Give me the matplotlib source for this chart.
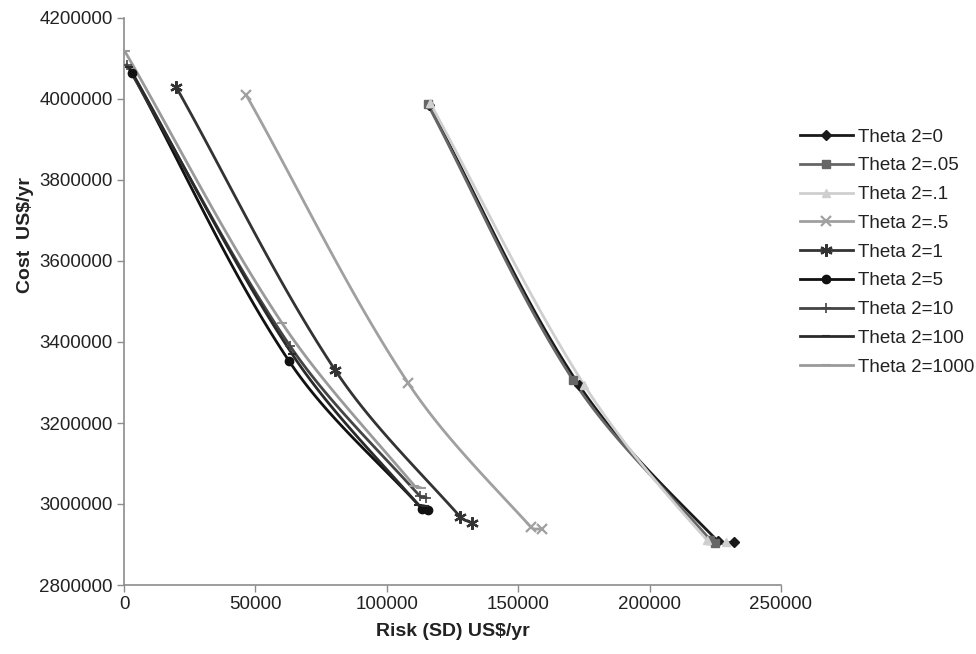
import numpy as np
import matplotlib
matplotlib.use("Agg")
import matplotlib.pyplot as plt

plt.rcParams['font.family'] = ['Liberation Sans', 'DejaVu Sans']

# Risk (SD) and cost for each Theta 2 setting
labels = ["Theta 2=0", "Theta 2=.05", "Theta 2=.1", "Theta 2=.5", "Theta 2=1",
          "Theta 2=5", "Theta 2=10", "Theta 2=100", "Theta 2=1000"]

risk_t0 = [116000, 173000, 226000, 232000]
cost_t0 = [3985000, 3295000, 2908000, 2905000]
risk_t005 = [115500, 171000, 223000, 225000]
cost_t005 = [3988000, 3305000, 2912000, 2903000]
risk_t01 = [116500, 175000, 222000, 229000]
cost_t01 = [3990000, 3295000, 2910000, 2905000]
risk_t05 = [46500, 108000, 155000, 159000]
cost_t05 = [4010000, 3300000, 2942000, 2938000]
risk_t1 = [19800, 80300, 128000, 132400]
cost_t1 = [4030000, 3331000, 2968000, 2953000]
risk_t5 = [3000, 62800, 113500, 115500]
cost_t5 = [4064000, 3353000, 2988000, 2984000]
risk_t10 = [1000, 63200, 112500, 115000]
cost_t10 = [4085000, 3390000, 3020000, 3016000]
risk_t100 = [2000, 64000, 112000, 114500]
cost_t100 = [4078000, 3370000, 2998000, 2995000]
risk_t1000 = [300, 60100, 110500, 113000]
cost_t1000 = [4118000, 3447000, 3045000, 3040000]

risks = [risk_t0, risk_t005, risk_t01, risk_t05, risk_t1,
         risk_t5, risk_t10, risk_t100, risk_t1000]
costs = [cost_t0, cost_t005, cost_t01, cost_t05, cost_t1,
         cost_t5, cost_t10, cost_t100, cost_t1000]

styles = [
    dict(color="#1a1a1a", marker="D", ms=5),
    dict(color="#666666", marker="s", ms=6),
    dict(color="#cfcfcf", marker="^", ms=6),
    dict(color="#a0a0a0", marker="x", ms=7, mew=1.6),
    dict(color="#333333", marker=(6, 2, 0), ms=9, mew=1.6),
    dict(color="#111111", marker="o", ms=6),
    dict(color="#444444", marker="+", ms=7, mew=1.2),
    dict(color="#2a2a2a", marker="_", ms=6, mew=1.5),
    dict(color="#9a9a9a", marker="_", ms=7, mew=1.5),
]

XMAX, YMIN, YMAX = 250000, 2800000, 4200000
AX_W, AX_H = 657.0, 567.0  # axes size in pixels


def smooth(xs, ys, n=40):
    """Smoothed path through the points (cubic Bezier segments, no overshoot)."""
    # work in screen-like units so directions are meaningful
    p = np.column_stack([np.asarray(xs, float) / XMAX * AX_W,
                         (np.asarray(ys, float) - YMIN) / (YMAX - YMIN) * AX_H])
    k = len(p)
    tang = np.zeros_like(p)
    for i in range(k):
        a = p[max(i - 1, 0)]
        b = p[min(i + 1, k - 1)]
        d = b - a
        tang[i] = d / np.hypot(*d)
    t = np.linspace(0, 1, n)[:, None]
    out = []
    for i in range(k - 1):
        p0, p3 = p[i], p[i + 1]
        L = np.hypot(*(p3 - p0))
        p1 = p0 + tang[i] * L / 3
        p2 = p3 - tang[i + 1] * L / 3
        seg = ((1 - t) ** 3) * p0 + 3 * ((1 - t) ** 2) * t * p1 \
            + 3 * (1 - t) * t ** 2 * p2 + t ** 3 * p3
        out.append(seg if i == 0 else seg[1:])
    s = np.vstack(out)
    return s[:, 0] / AX_W * XMAX, s[:, 1] / AX_H * (YMAX - YMIN) + YMIN


fig = plt.figure(figsize=(9.76, 6.54), dpi=100)
ax = fig.add_axes([124 / 976, 69 / 654, AX_W / 976, AX_H / 654])

for lab, xs, ys, st in zip(labels, risks, costs, styles):
    sx, sy = smooth(xs, ys)
    ax.plot(sx, sy, color=st["color"], lw=2.0, solid_capstyle="round", zorder=2)
    ax.plot(xs, ys, linestyle="none", color=st["color"], marker=st["marker"],
            ms=st["ms"], mew=st.get("mew", 1.0), zorder=3)
    ax.plot([], [], color=st["color"], lw=2.0, marker=st["marker"],
            ms=st["ms"], mew=st.get("mew", 1.0), label=lab)

ax.set_xlim(0, XMAX)
ax.set_ylim(YMIN, YMAX)
ax.set_xticks(np.arange(0, XMAX + 1, 50000))
ax.set_yticks(np.arange(YMIN, YMAX + 1, 200000))
ax.ticklabel_format(style="plain", useOffset=False)

for side in ("top", "right"):
    ax.spines[side].set_visible(False)
for side in ("left", "bottom"):
    ax.spines[side].set_color("#8c8c8c")
    ax.spines[side].set_linewidth(1.2)
ax.tick_params(axis="both", colors="#8c8c8c", direction="out", length=5,
               labelsize=13.5, labelcolor="#222222", width=1.0, pad=3)

ax.set_xlabel("Risk (SD) US$/yr", fontsize=14, fontweight="bold",
              color="#222222", labelpad=7)
ax.set_ylabel("Cost  US$/yr", fontsize=14, fontweight="bold",
              color="#222222", labelpad=8)
ax.yaxis.set_label_coords(-0.137, 0.617)

leg = ax.legend(loc="upper left", bbox_to_anchor=(1.029, 0.805), frameon=False,
                fontsize=13.5, handlelength=2.8, handletextpad=0.3,
                labelspacing=0.62, borderaxespad=0, borderpad=0)
for t in leg.get_texts():
    t.set_color("#222222")

fig.savefig("out.png", dpi=100)
